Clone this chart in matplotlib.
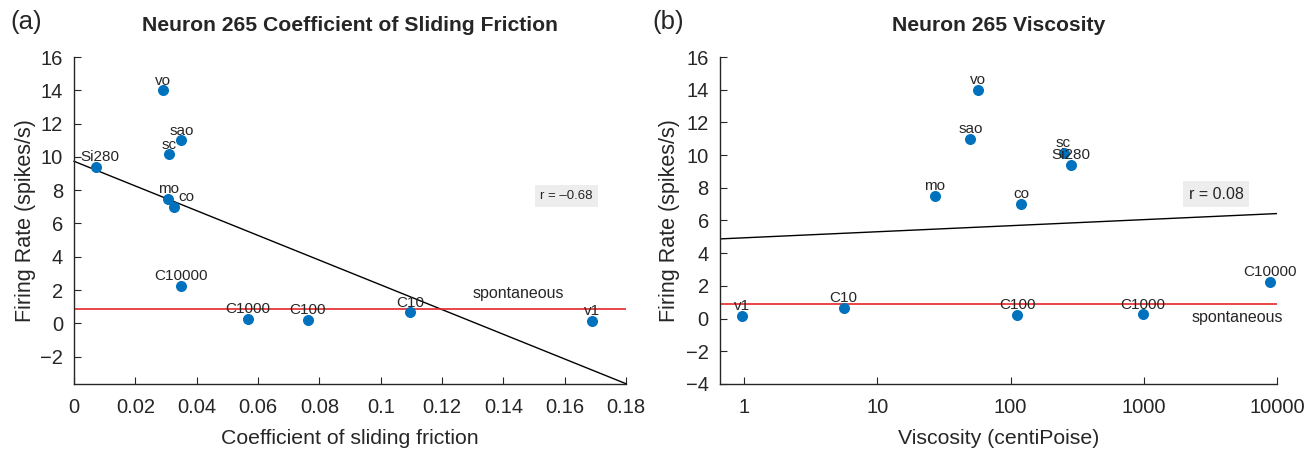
import matplotlib
matplotlib.use("Agg")
import matplotlib.pyplot as plt
import numpy as np

plt.rcParams["font.family"] = ["Liberation Sans", "DejaVu Sans"]

# =========================
# DATA
# =========================

names = ["vo", "sao", "sc", "Si280", "mo", "co", "C10000", "C1000", "C100", "C10", "v1"]
firing_rate = [14.0, 11.0, 10.15, 9.4, 7.5, 7.0, 2.25, 0.25, 0.2, 0.65, 0.15]
friction = [0.029, 0.035, 0.031, 0.0072, 0.0307, 0.0325, 0.035, 0.0567, 0.0762, 0.1097, 0.1689]
viscosity = [57, 50, 250, 285, 27, 120, 8800, 980, 112, 5.6, 0.96]

spontaneous = 0.86

# fitted lines
fric_fit = (9.74, -74.3)       # intercept, slope
visc_fit = (4.94, 0.371)       # intercept, slope per decade
r_fric = "r = \u20130.68"
r_visc = "r = 0.08"

fric_ticks = [0, 0.02, 0.04, 0.06, 0.08, 0.1, 0.12, 0.14, 0.16, 0.18]
fric_ticklabels = ["0", "0.02", "0.04", "0.06", "0.08", "0.1", "0.12", "0.14", "0.16", "0.18"]
visc_ticks = [1, 10, 100, 1000, 10000]
visc_ticklabels = ["1", "10", "100", "1000", "10000"]

# label nudges in points (x only)
fric_dx = {"co": 9, "Si280": 3}

dot_color = "#0072BD"
red = "#E8262A"
ink = "#262626"

fig = plt.figure(figsize=(13.15, 4.5), dpi=100)
ax1 = fig.add_axes([0.0563, 0.147, 0.4198, 0.726])
ax2 = fig.add_axes([0.5475, 0.147, 0.4236, 0.726])


def style_axes(ax):
    for side in ["top", "right"]:
        ax.spines[side].set_visible(False)
    for side in ["left", "bottom"]:
        ax.spines[side].set_color(ink)
        ax.spines[side].set_linewidth(1.0)
    ax.tick_params(direction="in", length=5, width=0.8, colors=ink,
                   labelsize=14.5)
    ax.tick_params(axis="x", pad=10)
    ax.tick_params(axis="y", pad=8)
    ax.tick_params(which="minor", length=0)


def label_points(ax, xs, dxs=None):
    for n, x, y in zip(names, xs, firing_rate):
        dx = dxs.get(n, 0) if dxs else 0
        ax.annotate(n, (x, y), xytext=(dx, 2), textcoords="offset points",
                    ha="center", va="bottom", fontsize=11, color=ink)


# =========================
# (a) friction
# =========================

style_axes(ax1)
ax1.set_xlim(0, 0.18)
ax1.set_ylim(-3.64, 16)
ax1.set_xticks(fric_ticks)
ax1.set_xticklabels(fric_ticklabels)
ax1.set_yticks(np.arange(-2, 17, 2))

xl = np.array(ax1.get_xlim())
ax1.plot(xl, fric_fit[0] + fric_fit[1] * xl, color="black", lw=1.0, clip_on=False)
ax1.axhline(spontaneous, color=red, lw=1.2)
ax1.scatter(friction, firing_rate, s=48, color=dot_color, zorder=3)
label_points(ax1, friction, fric_dx)

ax1.text(0.145, 1.8, "spontaneous", ha="center", va="center", fontsize=11.5, color=ink)
ax1.text(0.1605, 7.65, r_fric, ha="center", va="center", fontsize=9.5, color=ink,
         bbox=dict(boxstyle="square,pad=0.4", fc="#EDEDED", ec="none"))

ax1.set_xlabel("Coefficient of sliding friction", fontsize=15.3, color=ink, labelpad=9)
ax1.set_ylabel("Firing Rate (spikes/s)", fontsize=15.5, color=ink, labelpad=3)
ax1.set_title("Neuron 265 Coefficient of Sliding Friction", fontsize=15.2,
              fontweight="bold", color=ink, pad=19)

# =========================
# (b) viscosity
# =========================

style_axes(ax2)
ax2.set_xscale("log")
ax2.set_xlim(0.66, 10000)
ax2.set_ylim(-4, 16)
ax2.set_xticks(visc_ticks)
ax2.set_xticklabels(visc_ticklabels)
ax2.set_yticks(np.arange(-4, 17, 2))

xl2 = np.array(ax2.get_xlim())
ax2.plot(xl2, visc_fit[0] + visc_fit[1] * np.log10(xl2), color="black", lw=1.0)
ax2.axhline(spontaneous, color=red, lw=1.2)
ax2.scatter(viscosity, firing_rate, s=48, color=dot_color, zorder=3)
label_points(ax2, viscosity)

ax2.text(5000, 0.05, "spontaneous", ha="center", va="center", fontsize=11.5, color=ink)
ax2.text(3500, 7.6, r_visc, ha="center", va="center", fontsize=11.5, color=ink,
         bbox=dict(boxstyle="square,pad=0.35", fc="#EDEDED", ec="none"))

ax2.set_xlabel("Viscosity (centiPoise)", fontsize=15.3, color=ink, labelpad=9)
ax2.set_ylabel("Firing Rate (spikes/s)", fontsize=15.5, color=ink, labelpad=4)
ax2.set_title("Neuron 265 Viscosity", fontsize=15.2, fontweight="bold",
              color=ink, pad=19)

fig.text(0.008, 0.952, "(a)", fontsize=18.5, color=ink, va="center")
fig.text(0.496, 0.952, "(b)", fontsize=18.5, color=ink, va="center")

fig.savefig("out.png", dpi=100, facecolor="white")
